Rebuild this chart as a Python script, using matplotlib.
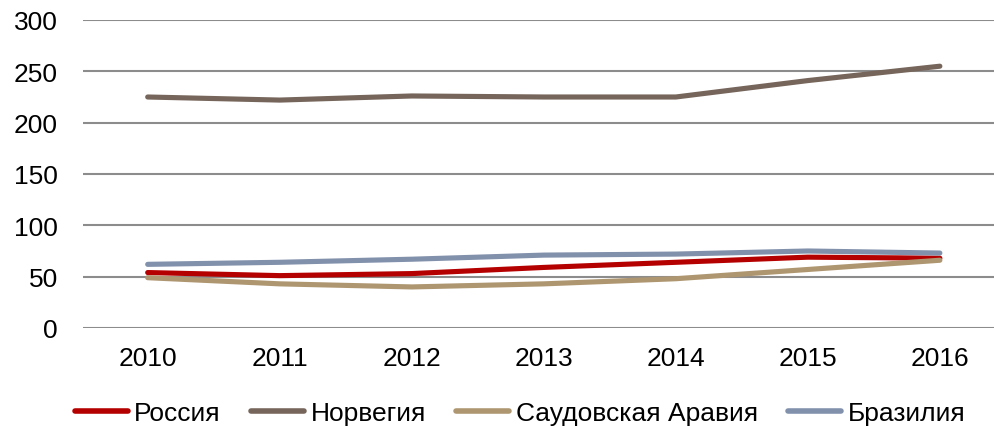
import matplotlib
matplotlib.use("Agg")
import matplotlib.pyplot as plt

years = ["2010", "2011", "2012", "2013", "2014", "2015", "2016"]
russia = [54, 51, 53, 59, 64, 69, 68]
norway = [225, 222, 226, 225, 225, 241, 255]
saudi = [49, 43, 40, 43, 48, 57, 66]
brazil = [62, 64, 67, 71, 72, 75, 73]
names = ["Россия", "Норвегия", "Саудовская Аравия", "Бразилия"]
colors = ["#B50000", "#75655A", "#AE9670", "#8190AB"]
yticks = [0, 50, 100, 150, 200, 250, 300]

plt.rcParams['font.family'] = ['Liberation Sans', 'DejaVu Sans']

fig = plt.figure(figsize=(9.94, 4.27), dpi=100)
ax = fig.add_axes([83/994, 1 - 329/427, 1 - 83/994, (329 - 21)/427])

x = list(range(len(years)))
series = [russia, norway, saudi, brazil]
for vals, name, c in zip(series, names, colors):
    ax.plot(x, vals, color=c, lw=3.7, label=name, solid_capstyle='round', zorder=3)

ax.set_xlim(-0.49, 6.41)
ax.set_ylim(0, 300)
ax.set_yticks(yticks)
ax.set_xticks(x)
ax.set_xticklabels(years)
ax.grid(axis='y', color='#8C8C8C', lw=1.5, zorder=0)
for s in ax.spines.values():
    s.set_visible(False)
ax.tick_params(axis='both', length=0, labelsize=19, colors='black')
ax.tick_params(axis='y', pad=18)
ax.tick_params(axis='x', pad=13)

leg = fig.legend(loc='center', bbox_to_anchor=(520/994, 1 - 414/427), ncol=4,
                 frameon=False, fontsize=19, handlelength=2.0, handletextpad=0.25,
                 columnspacing=1.15, borderaxespad=0)
for line in leg.get_lines():
    line.set_linewidth(4)
    line.set_solid_capstyle('round')

fig.savefig("out.png", dpi=100)
